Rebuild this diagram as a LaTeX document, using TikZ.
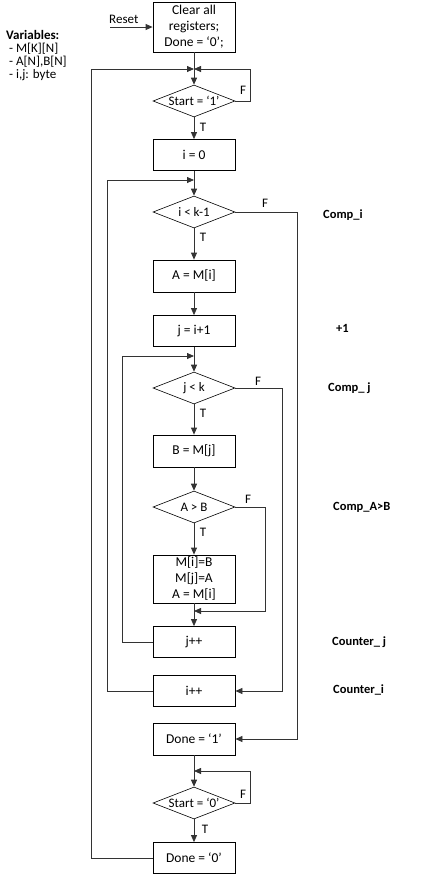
\documentclass[tikz,border=0pt]{standalone}
\usepackage{fontspec}
\setmainfont{Carlito}
\usetikzlibrary{shapes.geometric,arrows.meta}
\begin{document}
\begin{tikzpicture}[x=1pt,y=-1pt,
  box/.style={draw=black,line width=0.8pt,minimum width=82pt,minimum height=31pt,inner sep=0pt,align=center,font=\fontsize{13.5}{16}\selectfont},
  dia/.style={draw=black,line width=0.6pt,diamond,aspect=2.6,minimum width=82pt,minimum height=32pt,inner sep=0pt,font=\fontsize{13}{14}\selectfont},
  arr/.style={draw=black!80,line width=0.8pt,-{Triangle[length=7pt,width=6pt]}},
  lbl/.style={font=\fontsize{13}{14}\selectfont,inner sep=0pt},
  side/.style={font=\bfseries\fontsize{12.5}{13}\selectfont,inner sep=0pt,anchor=west}]
\path[use as bounding box] (0,0) rectangle (433,876);
% nodes
\node[box,minimum height=50pt] (clear) at (194,27) {Clear all\\registers;\\Done = ‘0’;};
\node[dia] (s1) at (194,101) {Start = ‘1’};
\node[box] (i0) at (194,155) {i = 0};
\node[dia] (c1) at (194,212) {i < k-1};
\node[box,minimum height=32pt] (am) at (194,276) {A = M[i]};
\node[box] (jset) at (194,331) {j = i+1};
\node[dia] (c2) at (194,388) {j < k};
\node[box,minimum height=32pt] (bm) at (194,451) {B = M[j]};
\node[dia] (c3) at (194,507) {A > B};
\node[box,minimum height=48pt] (swap) at (194,579) {M[i]=B\\M[j]=A\\A = M[i]};
\node[box] (jpp) at (194,642) {j++};
\node[box] (ipp) at (194,691) {i++};
\node[box,minimum height=32pt] (done1) at (194,739) {Done = ‘1’};
\node[dia] (s0) at (194,803) {Start = ‘0’};
\node[box] (done0) at (194,858) {Done = ‘0’};
% helper coordinates
\coordinate (j1) at (194,69);
\coordinate (j2) at (194,180);
\coordinate (j3) at (194,356);
\coordinate (j4) at (194,611);
\coordinate (j5) at (194,771);
\coordinate (resetpt) at (110,27);
\coordinate (xL1) at (91,0);
\coordinate (xL2) at (107,0);
\coordinate (xL3) at (122,0);
\coordinate (xR1) at (250,0);
\coordinate (xR2) at (297,0);
\coordinate (xR3) at (282,0);
\coordinate (xR4) at (265,0);
% texts
\node[lbl,anchor=south west] (resetlbl) at (109,24) {Reset};
\node[anchor=north west,inner sep=0pt,align=left,font=\fontsize{13}{13}\selectfont] (vars) at (6,30)
  {\textbf{Variables:}\\\hspace{3pt}- M[K][N]\\\hspace{3pt}- A[N],B[N]\\\hspace{3pt}- i,j: byte};
\node[side] (l1) at (323,215) {Comp\_i};
\node[side] (l2) at (336,328) {+1};
\node[side] (l3) at (328,388) {Comp\_ j};
\node[side] (l4) at (333,507) {Comp\_A>B};
\node[side] (l5) at (332,642) {Counter\_ j};
\node[side] (l6) at (333,690) {Counter\_i};
% connectors
\draw[arr] (resetpt) -- (clear.west);
\draw[arr] (clear) -- (s1);
\draw[arr] (done0.west) -- (done0.west -| xL1) |- (j1);
\draw[arr] (s1.east) -- (s1.east -| xR1) |- (j1);
\node[lbl] (f1) at (243,90) {F};
\draw[arr] (s1) -- (i0);
\node[lbl] (t1) at (203,127) {T};
\draw[arr] (i0) -- (c1);
\draw[arr] (ipp.west) -- (ipp.west -| xL2) |- (j2);
\draw[arr] (c1.east) -- (c1.east -| xR2) |- (done1.east);
\node[lbl] (f2) at (265,203) {F};
\draw[arr] (c1) -- (am);
\node[lbl] (t2) at (203,237) {T};
\draw[arr] (am) -- (jset);
\draw[arr] (jset) -- (c2);
\draw[arr] (jpp.west) -- (jpp.west -| xL3) |- (j3);
\draw[arr] (c2.east) -- (c2.east -| xR3) |- (ipp.east);
\node[lbl] (f3) at (258,381) {F};
\draw[arr] (c2) -- (bm);
\node[lbl] (t3) at (203,413) {T};
\draw[arr] (bm) -- (c3);
\draw[arr] (c3.east) -- (c3.east -| xR4) |- (j4);
\node[lbl] (f4) at (248,499) {F};
\draw[arr] (c3) -- (swap);
\node[lbl] (t4) at (203,532) {T};
\draw[arr] (swap) -- (jpp);
\draw[arr] (done1) -- (s0);
\draw[arr] (s0.east) -- (s0.east -| xR1) |- (j5);
\node[lbl] (f5) at (243,794) {F};
\draw[arr] (s0) -- (done0);
\node[lbl] (t5) at (205,829) {T};
\end{tikzpicture}
\end{document}
